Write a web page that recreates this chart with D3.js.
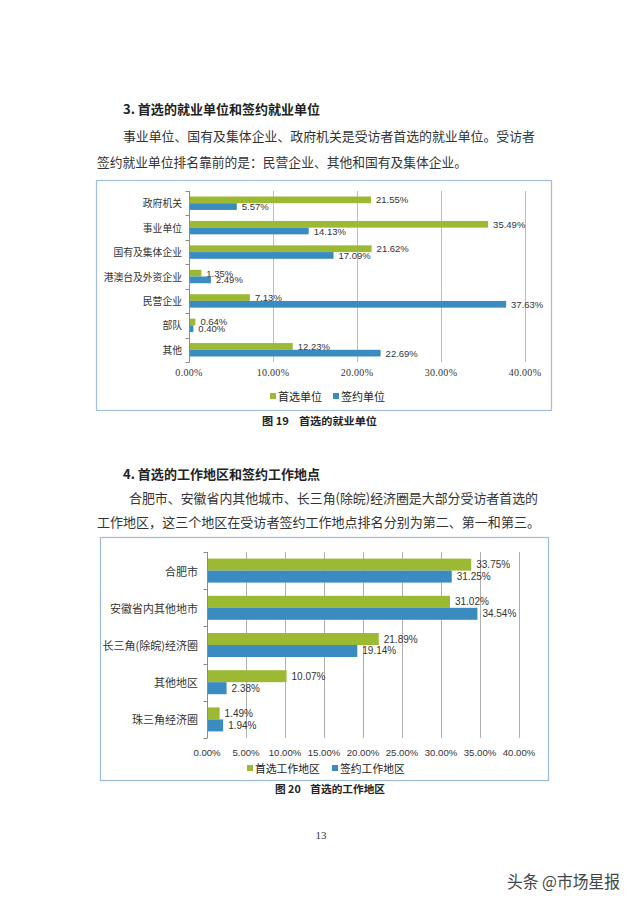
<!DOCTYPE html>
<html><head><meta charset="utf-8">
<script src="https://cdn.jsdelivr.net/npm/d3@7"></script>
<style>body{margin:0;background:#fff}svg{display:block}text{white-space:pre}</style>
</head><body>
<script>
// ---- data: chart 19 ----
const units = ["政府机关","事业单位","国有及集体企业","港澳台及外资企业","民营企业","部队","其他"];
const unitPreferred = [21.55,35.49,21.62,1.35,7.13,0.64,12.23];
const unitSigned    = [5.57,14.13,17.09,2.49,37.63,0.40,22.69];
const unitSeries = ["首选单位","签约单位"];
const unitTicks = [0,10,20,30,40];
// ---- data: chart 20 ----
const regions = ["合肥市","安徽省内其他地市","长三角(除皖)经济圈","其他地区","珠三角经济圈"];
const regionPreferred = [33.75,31.02,21.89,10.07,1.49];
const regionSigned    = [31.25,34.54,19.14,2.38,1.94];
const regionSeries = ["首选工作地区","签约工作地区"];
const regionTicks = [0,5,10,15,20,25,30,35,40];

const GREEN="#9cb933", BLUE="#3a8bbf";
const CJK="'Noto Sans CJK SC','Noto Sans',sans-serif";
const svg=d3.select("body").append("svg").attr("width",640).attr("height",906);

function txt(s,x,y,size,opts={}){
  const t=svg.append("text").attr("x",x).attr("y",y).text(s)
    .attr("font-family",opts.family||CJK).attr("font-size",size)
    .attr("fill",opts.fill||"#222").attr("dominant-baseline","central");
  if(opts.weight) t.attr("font-weight",opts.weight);
  if(opts.len){t.attr("textLength",opts.len).attr("lengthAdjust","spacingAndGlyphs");}
  if(opts.anchor) t.attr("text-anchor",opts.anchor);
  return t;
}

// ---- page text ----
txt("3. 首选的就业单位和签约就业单位",123,108,13,{weight:"bold",len:197});
txt("事业单位、国有及集体企业、政府机关是受访者首选的就业单位。受访者",123,135,13,{len:412,fill:"#333"});
txt("签约就业单位排名靠前的是：民营企业、其他和国有及集体企业。",97,161,13,{len:370,fill:"#333"});
txt("图 19    首选的就业单位",262,420,10.5,{weight:"bold",len:115});

txt("4. 首选的工作地区和签约工作地点",123,473,13,{weight:"bold",len:197});
txt("合肥市、安徽省内其他城市、长三角(除皖)经济圈是大部分受访者首选的",129,497,13,{len:409,fill:"#333"});
txt("工作地区，这三个地区在受访者签约工作地点排名分别为第二、第一和第三。",97,521,13,{len:443,fill:"#333"});
txt("图 20    首选的工作地区",275,788,10.5,{weight:"bold",len:110});

txt("13",321,835,11,{family:"'Liberation Serif',serif",anchor:"middle",fill:"#333"});
txt("头条 @市场星报",507,880,17,{len:113,fill:"#444"}).attr("stroke","#fff").attr("stroke-width",0.6).attr("paint-order","stroke");

// ---- generic chart ----
function chart(cfg){
  const g=svg.append("g");
  g.append("rect").attr("x",cfg.box[0]+0.5).attr("y",cfg.box[1]+0.5)
    .attr("width",cfg.box[2]-cfg.box[0]).attr("height",cfg.box[3]-cfg.box[1])
    .attr("fill","#fff").attr("stroke",cfg.border).attr("stroke-width",1.2);
  const x=d3.scaleLinear().domain([0,40]).range(cfg.xr);
  const y=d3.scaleBand().domain(cfg.cats).range(cfg.yr).paddingInner(cfg.pad).paddingOuter(cfg.pad/2);
  const y1=d3.scaleBand().domain([0,1]).range([0,y.bandwidth()]);
  // gridlines
  g.selectAll(".grid").data(cfg.ticks.filter(d=>d>0)).join("line")
    .attr("x1",d=>Math.round(x(d))+0.5).attr("x2",d=>Math.round(x(d))+0.5)
    .attr("y1",cfg.yr[0]).attr("y2",cfg.yr[1]).attr("stroke",cfg.grid).attr("stroke-width",1);
  // left axis
  const x0=Math.round(x(0))+0.5;
  g.append("line").attr("x1",x0).attr("x2",x0).attr("y1",cfg.yr[0]).attr("y2",cfg.yr[1]).attr("stroke","#8c8c8c");
  const bounds=cfg.cats.map(c=>y(c)-y.step()*cfg.pad/2).concat([cfg.yr[1]]);
  g.selectAll(".tk").data(bounds).join("line")
    .attr("x1",x0-4).attr("x2",x0).attr("y1",d=>Math.round(d)+0.5).attr("y2",d=>Math.round(d)+0.5).attr("stroke","#8c8c8c");
  // bars
  const series=[cfg.a,cfg.b], colors=[GREEN,BLUE];
  series.forEach((vals,si)=>{
    g.selectAll(".b"+si).data(cfg.cats).join("rect")
      .attr("x",x(0)+1).attr("y",c=>y(c)+y1(si))
      .attr("width",(c,i)=>x(vals[i])-x(0)).attr("height",y1.bandwidth())
      .attr("fill",colors[si]);
    g.selectAll(".l"+si).data(cfg.cats).join("text")
      .attr("x",(c,i)=>x(vals[i])+cfg.lblOff).attr("y",c=>y(c)+y1(si)+y1.bandwidth()/2)
      .attr("dominant-baseline","central").attr("font-family","'Liberation Sans',Arial,sans-serif")
      .attr("font-size",cfg.lblSize).attr("fill","#333")
      .text((c,i)=>vals[i].toFixed(2)+"%");
  });
  // category labels
  g.selectAll(".cat").data(cfg.cats).join("text")
    .attr("x",cfg.catX).attr("y",c=>y(c)+y.bandwidth()/2).attr("text-anchor","end")
    .attr("dominant-baseline","central").attr("font-family",CJK).attr("font-size",cfg.catSize).attr("fill","#333")
    .text(c=>c);
  // x tick labels
  g.selectAll(".xt").data(cfg.ticks).join("text")
    .attr("x",d=>x(d)).attr("y",cfg.tickY).attr("text-anchor","middle").attr("dominant-baseline","central")
    .attr("font-family",cfg.tickFont).attr("font-size",cfg.tickSize).attr("fill","#333")
    .attr("letter-spacing",cfg.tickLS||0)
    .text(d=>d.toFixed(2)+"%");
  // legend
  cfg.series.forEach((s,i)=>{
    const lx=cfg.legX[i];
    g.append("rect").attr("x",lx).attr("y",cfg.legY-cfg.legSq/2).attr("width",cfg.legSq).attr("height",cfg.legSq).attr("fill",colors[i]);
    g.append("text").attr("x",lx+cfg.legSq+2).attr("y",cfg.legY).attr("dominant-baseline","central")
      .attr("font-family",CJK).attr("font-size",cfg.legSize).attr("fill","#222").text(s);
  });
}

chart({box:[96,180,551,410],border:"#a3bed8",grid:"#a9c0d8",cats:units,a:unitPreferred,b:unitSigned,
  series:unitSeries,ticks:unitTicks,xr:[189,525],yr:[191,362],pad:0.45,lblOff:6,lblSize:9.5,
  catX:182,catSize:9.8,tickY:372,tickFont:"'Liberation Serif',serif",tickSize:10,tickLS:0.3,
  legX:[270,333],legY:396,legSq:6,legSize:11});

chart({box:[100,537,548,780],border:"#9cbbd6",grid:"#b0b0b0",cats:regions,a:regionPreferred,b:regionSigned,
  series:regionSeries,ticks:regionTicks,xr:[207,519],yr:[552,738],pad:0.355,lblOff:6,lblSize:10,
  catX:198,catSize:11,tickY:752,tickFont:"'Liberation Sans',Arial,sans-serif",tickSize:9.6,
  legX:[247,332],legY:768,legSq:6,legSize:10.8});
</script>
</body></html>
